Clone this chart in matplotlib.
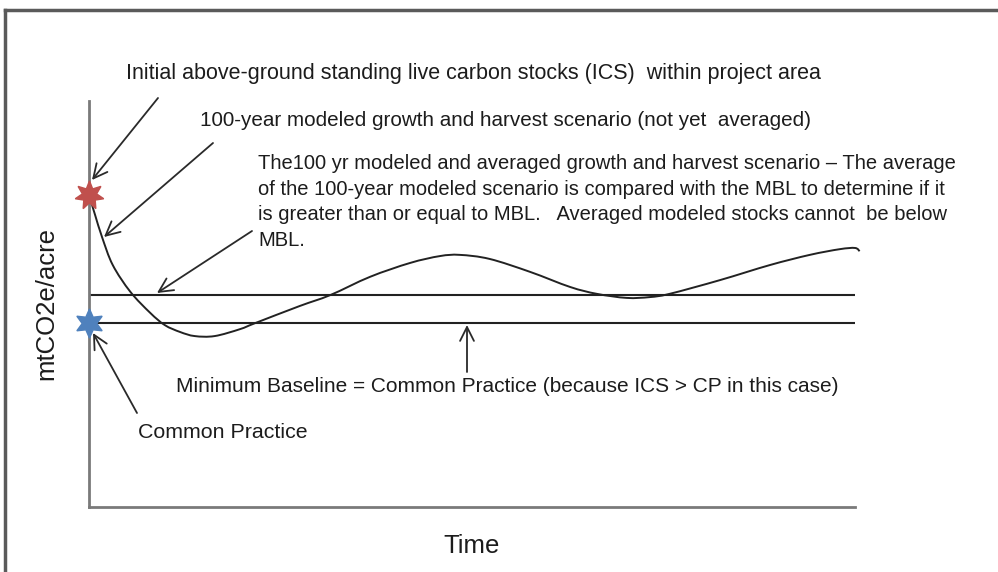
import matplotlib.pyplot as plt
from matplotlib.lines import Line2D
from matplotlib.path import Path
from matplotlib.patches import PathPatch

# Modeled growth and harvest curve (time in years, stocks in arbitrary units)
curve_time = [0, 0.8, 1.7, 3.1, 5.4, 8.0, 9.9, 11.9, 13.8, 16.4, 19.7, 21.7,
              27.5, 31.5, 36.7, 41.9, 45.8, 48.4, 52.3, 57.6, 62.8, 66.3, 70.2,
              73.2, 75.8, 82.4, 88.9, 94.1, 98.0, 100.0, 100.6]
curve_stock = [76.8, 71.9, 66.5, 59.6, 53.0, 47.8, 44.8, 43.1, 42.1, 42.1,
               43.8, 45.3, 49.5, 52.2, 56.7, 60.1, 61.8, 62.1, 61.1, 57.9, 54.2,
               52.5, 51.5, 51.7, 52.5, 55.9, 59.6, 62.1, 63.5, 63.8, 63.0]

ics_stock = 76.8       # initial carbon stocks
avg_stock = 52.2       # averaged modeled stocks
mbl_stock = 45.3       # minimum baseline = common practice
time_span = [0, 100]

label_ics = "Initial above-ground standing live carbon stocks (ICS)  within project area"
label_model = "100-year modeled growth and harvest scenario (not yet  averaged)"
label_avg = ("The100 yr modeled and averaged growth and harvest scenario \u2013 The average\n"
             "of the 100-year modeled scenario is compared with the MBL to determine if it\n"
             "is greater than or equal to MBL.   Averaged modeled stocks cannot  be below\n"
             "MBL.")
label_mbl = "Minimum Baseline = Common Practice (because ICS > CP in this case)"
label_cp = "Common Practice"

W, H = 998, 572
plt.rcParams['font.family'] = ['Liberation Sans', 'DejaVu Sans']
TXT = '#1c1c1c'


def px(x, y):
    # image pixel (top-left origin) -> figure fraction
    return (x / W, 1 - y / H)


def smooth_path(xs, ys):
    # Catmull-Rom through the points, drawn as cubic Bezier segments
    pts = list(zip(xs, ys))
    verts = [pts[0]]
    codes = [Path.MOVETO]
    n = len(pts)
    for i in range(n - 1):
        p0 = pts[max(i - 1, 0)]
        p1 = pts[i]
        p2 = pts[i + 1]
        p3 = pts[min(i + 2, n - 1)]
        c1 = (p1[0] + (p2[0] - p0[0]) / 6, p1[1] + (p2[1] - p0[1]) / 6)
        c2 = (p2[0] - (p3[0] - p1[0]) / 6, p2[1] - (p3[1] - p1[1]) / 6)
        verts += [c1, c2, p2]
        codes += [Path.CURVE4] * 3
    return Path(verts, codes)


def main():
    fig = plt.figure(figsize=(W / 100, H / 100), dpi=100)
    ax = fig.add_axes([89 / W, 65 / H, 766 / W, 406 / H])
    ax.set_xlim(time_span)
    ax.set_ylim(0, 100)

    for s in ['top', 'right']:
        ax.spines[s].set_visible(False)
    for s in ['left', 'bottom']:
        ax.spines[s].set_color('#7a7a7a')
        ax.spines[s].set_linewidth(2)
    ax.set_xticks([])
    ax.set_yticks([])

    # Lines
    ax.plot(time_span, [avg_stock, avg_stock], color='#222222', lw=1.5)
    ax.plot(time_span, [mbl_stock, mbl_stock], color='#222222', lw=1.5)
    ax.add_patch(PathPatch(smooth_path(curve_time, curve_stock), fill=False,
                           edgecolor='#222222', lw=1.4, clip_on=False))

    # Stars
    ax.plot([0], [ics_stock], marker=(7, 1, 0), ms=21, color='#C0504D',
            mec='#C0504D', clip_on=False, zorder=5)
    ax.plot([0], [mbl_stock], marker=(6, 1, 0), ms=21, color='#4F81BD',
            mec='#4F81BD', clip_on=False, zorder=5)

    # Axis labels
    fig.text(*px(472, 546), "Time", fontsize=18.5, color=TXT, ha='center', va='center')
    fig.text(*px(46, 304), "mtCO2e/acre", fontsize=18.5, color=TXT, rotation=90,
             ha='center', va='center')

    # Annotation texts
    fig.text(*px(126, 73), label_ics, fontsize=15.5, color=TXT, va='center')
    fig.text(*px(200, 120), label_model, fontsize=14.9, color=TXT, va='center')
    fig.text(*px(258, 154), label_avg, fontsize=14.5, color=TXT, va='top',
             linespacing=1.44)
    fig.text(*px(176, 387), label_mbl, fontsize=15, color=TXT, va='center')
    fig.text(*px(138, 432), label_cp, fontsize=15.4, color=TXT, va='center')

    # Arrows
    arrows = [((158, 98), (92, 180)),
              ((213, 143), (104, 237)),
              ((252, 231), (157, 293)),
              ((467, 372), (467, 325)),
              ((137, 413), (93, 333))]
    for start, tip in arrows:
        ax.annotate('', xy=px(*tip), xytext=px(*start),
                    xycoords='figure fraction', textcoords='figure fraction',
                    arrowprops=dict(arrowstyle='->,head_length=1.0,head_width=0.5',
                                    color='#2a2a2a', lw=1.3, shrinkA=0, shrinkB=0),
                    annotation_clip=False)

    # Outer frame (continues beyond the right and bottom edges)
    fig.add_artist(Line2D([5 / W, 5 / W], [0, 1 - 10 / H], color='#5a5a5a', lw=2.5))
    fig.add_artist(Line2D([5 / W, 1], [1 - 10 / H, 1 - 10 / H], color='#5a5a5a', lw=2.5))

    fig.savefig("out.png", dpi=100)


if __name__ == "__main__":
    main()
